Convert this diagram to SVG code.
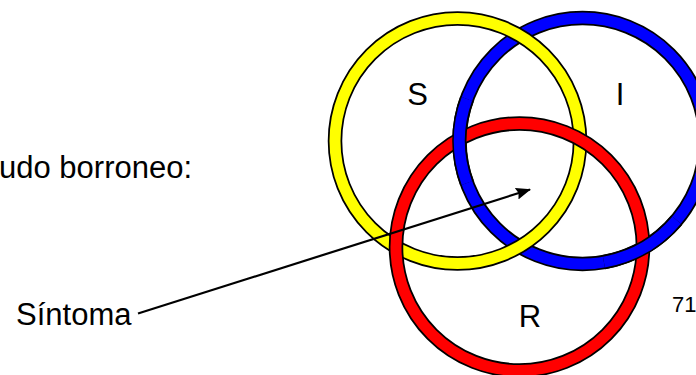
<svg xmlns="http://www.w3.org/2000/svg" width="696" height="375" viewBox="0 0 696 375">
<style>
.edge{fill:none;stroke:#000;stroke-width:14.5}
.band{fill:none;stroke-width:11}
.lbl{font-family:"Liberation Sans",Arial,sans-serif;font-size:31px;fill:#000}
</style>
<defs>
<marker id="ah" viewBox="0 0 15 12" refX="14" refY="6" markerWidth="15" markerHeight="12" markerUnits="userSpaceOnUse" orient="auto">
<path d="M0,0 L15,6 L0,12 L2,6 z" fill="#000"/>
</marker>
</defs>
<rect width="696" height="375" fill="#fff"/>
<text class="lbl" x="-1" y="178">udo borroneo:</text>
<g id="ring-I">
<circle class="edge" cx="582.5" cy="141" r="123"/>
<circle class="band" cx="582.5" cy="141" r="123" stroke="#0000ff"/>
</g>
<g id="ring-S">
<circle class="edge" cx="457.5" cy="141" r="122.5"/>
<circle class="band" cx="457.5" cy="141" r="122.5" stroke="#ffff00"/>
</g>
<g id="ring-R">
<circle class="edge" cx="519.5" cy="247" r="123.5"/>
<circle class="band" cx="519.5" cy="247" r="123.5" stroke="#ff0000"/>
</g>
<g id="ring-I-over">
<path class="edge" d="M466.9,183.1 A123,123 0 0 1 466.9,98.9"/>
<path class="band" d="M466.9,183.1 A123,123 0 0 1 466.9,98.9" stroke="#0000ff"/>
<path class="edge" d="M676.7,220.1 A123,123 0 0 1 603.9,262.1"/>
<path class="band" d="M676.7,220.1 A123,123 0 0 1 603.9,262.1" stroke="#0000ff"/>
</g>
<g id="labels">
<text class="lbl" x="417.5" y="105" text-anchor="middle">S</text>
<text class="lbl" x="620" y="105" text-anchor="middle">I</text>
<text class="lbl" x="530" y="327" text-anchor="middle">R</text>
<text class="lbl" x="672" y="312" style="font-size:22px">71</text>
</g>
<g id="sintoma">
<text class="lbl" x="16" y="325">Síntoma</text>
</g>
<g id="connectors">
<line x1="138" y1="313.5" x2="530" y2="189.5" stroke="#000" stroke-width="2.2" marker-end="url(#ah)"/>
</g>
</svg>
